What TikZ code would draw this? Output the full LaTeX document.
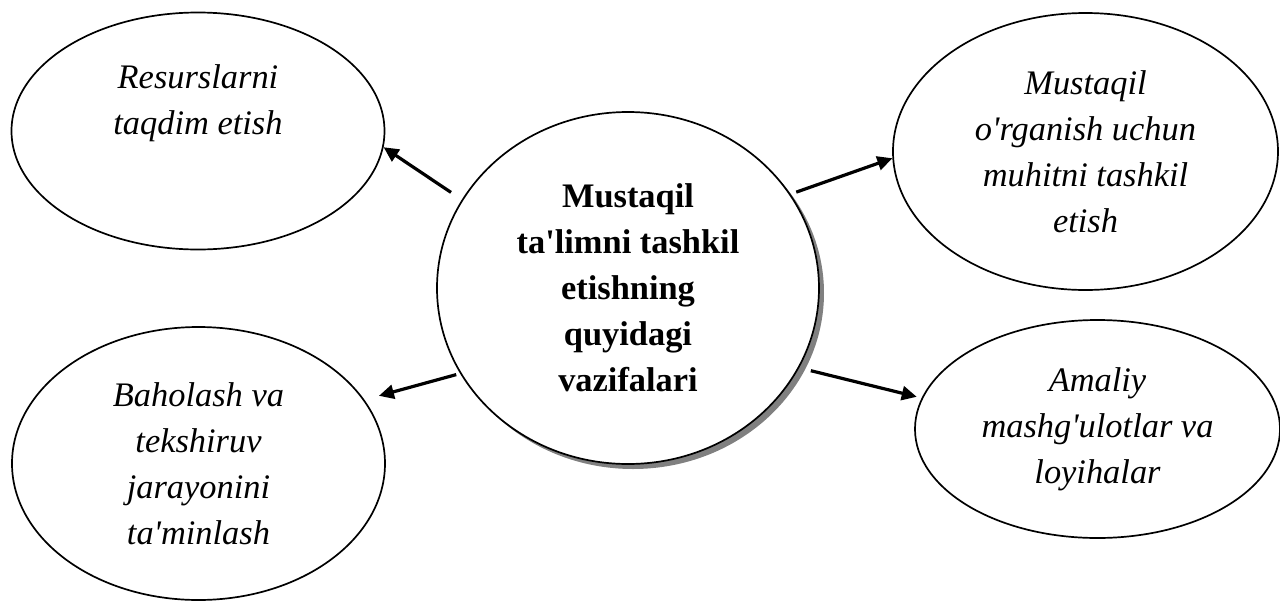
\documentclass[tikz,border=0pt]{standalone}
\usepackage{fontspec}
\setmainfont{Liberation Serif}
\usetikzlibrary{shapes.geometric,shadows,arrows.meta}
\newcommand{\apos}{\textquotesingle}
\tikzset{
  bubble/.style={ellipse, draw, line width=0.85pt, fill=white, inner sep=0pt, align=center,
    font=\fontsize{17.2pt}{23pt}\selectfont\itshape},
  note/.style={inner sep=0pt, align=center, font=\fontsize{17.2pt}{23pt}\selectfont\itshape},
  link/.style={line width=1.6pt, -{Triangle[length=7.5pt,width=7pt]}}
}

\begin{document}
\begin{tikzpicture}
		\useasboundingbox (-314pt,144pt) rectangle (326pt,-156.5pt);
		\node (m) [bubble, font=\fontsize{17.2pt}{23pt}\selectfont\bfseries,
		           minimum width=191pt, minimum height=176pt,
		           drop shadow={shadow xshift=2.5pt, shadow yshift=-2.5pt, fill=gray, opacity=1}]
		          {Mustaqil\\ta\apos limni tashkil\\etishning\\quyidagi\\vazifalari};
		\node (tl) [bubble, minimum width=186.5pt, minimum height=118.5pt] at (-215pt,78.5pt) {};
		\node (tlt) [note] at ([yshift=13.75pt]tl.center) {Resurslarni\\taqdim etish};
		\node (tr) [bubble, minimum width=192.5pt, minimum height=138.5pt] at (228.75pt,68.25pt)
		          {Mustaqil\\o\apos rganish uchun\\muhitni tashkil\\etish};
		\node (bl) [bubble, minimum width=186.5pt, minimum height=136.5pt] at (-214.75pt,-87.75pt)
		          {Baholash va\\tekshiruv\\jarayonini\\ta\apos minlash};
		\node (br) [bubble, minimum width=182.5pt, minimum height=109pt] at (234.75pt,-70.5pt)
		          {Amaliy\\mashg\apos ulotlar va\\loyihalar};
		\draw [link, shorten <=6.5pt] (m.152) -> (tl.-5);
		\draw [link, shorten <=3pt] (m.30) -> (tr.182);
		\draw [link, shorten <=2pt, shorten >=7.5pt] (m.207.5) -> (bl.21.6);
		\draw [link, shorten <=6pt, shorten >=2.5pt] (m.-25) -> (br.170);
\end{tikzpicture}
\end{document}
